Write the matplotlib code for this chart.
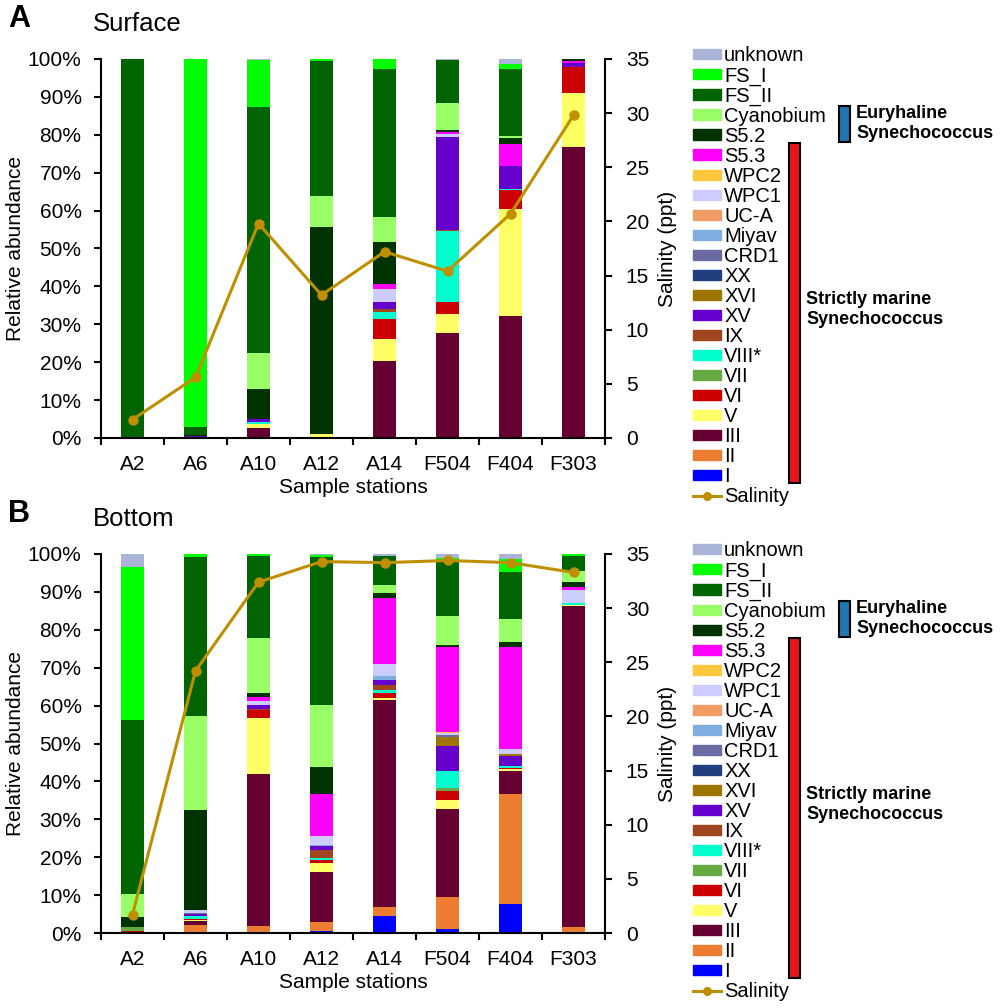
import matplotlib
matplotlib.use("Agg")
import matplotlib.pyplot as plt
import numpy as np
from matplotlib.patches import Patch, Rectangle
from matplotlib.lines import Line2D

plt.rcParams['font.family'] = ['Liberation Sans', 'DejaVu Sans']

# stations and clades (bottom of stack first)
stations = ['A2', 'A6', 'A10', 'A12', 'A14', 'F504', 'F404', 'F303']
clades = ['I', 'II', 'III', 'V', 'VI', 'VII', 'VIII*', 'IX', 'XV', 'XVI', 'XX',
          'CRD1', 'Miyav', 'UC-A', 'WPC1', 'WPC2', 'S5.3', 'S5.2', 'Cyanobium',
          'FS_II', 'FS_I', 'unknown']
colors = ['#0000FF', '#ED7D31', '#660033', '#FFFF66', '#CC0000', '#66AA44',
          '#00FFCC', '#A0461E', '#6600CC', '#9C7600', '#1F3F7F', '#6B6BA3',
          '#7FAEE0', '#F19C64', '#CCCCFF', '#FFC83C', '#FF00FF', '#003300',
          '#99FF66', '#006400', '#00FF00', '#A9B4D8']

# relative abundance (%), only clades that show up; others are zero
surface = {
    'II':        [0, 0, 0, 0, 0, 0, 0.3, 0.3],
    'III':       [0, 0, 2.7, 0, 20.3, 27.6, 31.8, 76.4],
    'V':         [0, 0, 1.1, 1.0, 5.8, 5.1, 28.2, 14.2],
    'VI':        [0, 0, 0, 0, 5.3, 3.1, 5.1, 7.1],
    'VIII*':     [0, 0, 0.3, 0, 1.9, 18.9, 0.3, 0],
    'IX':        [0, 0, 0, 0, 0.6, 0.3, 0, 0],
    'XV':        [0, 0.5, 0.8, 0, 1.9, 24.5, 6.0, 1.0],
    'WPC1':      [0, 0, 0, 0, 3.6, 0.6, 0, 0],
    'S5.3':      [0, 0, 0, 0, 1.2, 0.5, 5.8, 0.4],
    'S5.2':      [0, 0.3, 8.1, 54.7, 11.2, 0.7, 1.7, 0.6],
    'Cyanobium': [0, 0, 9.4, 8.1, 6.6, 7.0, 0.4, 0],
    'FS_II':     [100, 2.2, 65.0, 35.7, 39.0, 11.4, 17.7, 0],
    'FS_I':      [0, 97.0, 12.3, 0.5, 2.6, 0, 1.4, 0],
    'unknown':   [0, 0, 0.3, 0, 0, 0.3, 1.3, 0],
}
bottom = {
    'I':         [0, 0, 0, 0.4, 4.6, 1.1, 7.7, 0],
    'II':        [0, 2.2, 1.9, 2.4, 2.2, 8.4, 29.1, 1.6],
    'III':       [0, 0.9, 40.0, 13.4, 54.6, 23.2, 5.9, 84.6],
    'V':         [0, 0.4, 14.7, 2.3, 0.6, 2.5, 0.6, 0.4],
    'VI':        [0.4, 0.3, 2.2, 0.7, 1.3, 2.2, 0.2, 0],
    'VII':       [1.2, 0, 0, 0, 0, 0.9, 0, 0],
    'VIII*':     [0, 0.6, 0, 0.6, 0.9, 4.4, 0.5, 0.6],
    'IX':        [0, 0, 0.3, 2.0, 1.3, 0, 0, 0],
    'XV':        [0, 0.5, 1.0, 1.1, 1.3, 6.7, 2.6, 0],
    'XVI':       [0, 0, 0, 0, 0, 2.3, 0.6, 0],
    'CRD1':      [0, 0.4, 0, 0, 0, 0.6, 0, 0],
    'Miyav':     [0, 0, 0, 0.2, 1.1, 0, 0, 0],
    'WPC1':      [0, 0.7, 1.0, 2.6, 3.1, 0.5, 1.3, 3.2],
    'WPC2':      [0, 0, 0, 0, 0, 0.3, 0, 0],
    'S5.3':      [0, 0, 1.2, 11.1, 17.4, 22.4, 27.0, 0.8],
    'S5.2':      [2.6, 26.4, 0.9, 7.0, 1.3, 0.6, 1.2, 1.3],
    'Cyanobium': [6.1, 24.9, 14.6, 16.3, 2.0, 7.5, 6.2, 2.9],
    'FS_II':     [45.8, 41.9, 21.8, 39.1, 7.7, 14.9, 12.4, 4.2],
    'FS_I':      [40.6, 0.8, 0.4, 0.5, 0, 0.4, 3.4, 0.4],
    'unknown':   [3.3, 0, 0, 0.3, 0.6, 1.1, 1.3, 0],
}
salinity_surface = [1.7, 5.6, 19.8, 13.2, 17.2, 15.4, 20.7, 29.8]
salinity_bottom = [1.7, 24.2, 32.4, 34.3, 34.2, 34.4, 34.2, 33.3]

sal_color = '#BF8F00'
fs = 15

fig = plt.figure(figsize=(10, 10.08), dpi=100)


def panel(rect, data, sal, letter, title, dy):
    ax = fig.add_axes(rect)
    x = np.arange(len(stations))
    base = np.zeros(len(stations))
    for name, col in zip(clades, colors):
        vals = np.array(data.get(name, [0] * len(stations)), dtype=float)
        ax.bar(x, vals / 100, 0.38, bottom=base, color=col, linewidth=0)
        base += vals / 100
    ax.set_xlim(-0.5, len(stations) - 0.5)
    ax.set_ylim(0, 1)
    ax.set_yticks(np.arange(0, 1.01, 0.1))
    ax.set_yticklabels(['%d%%' % v for v in range(0, 101, 10)], fontsize=fs)
    ax.set_xticks(x)
    ax.set_xticklabels(stations, fontsize=fs)
    ax.set_xticks(np.arange(-0.5, len(stations)), minor=True)
    ax.tick_params(axis='x', which='major', length=0, pad=12)
    ax.tick_params(axis='x', which='minor', length=5, width=1.5, direction='out')
    ax.tick_params(axis='y', length=5, width=1.5, direction='out', pad=9)
    for s in ['top', 'right']:
        ax.spines[s].set_visible(False)
    for s in ['left', 'bottom']:
        ax.spines[s].set_linewidth(1.5)
    ax.set_ylabel('Relative abundance', fontsize=fs, labelpad=2)
    ax.set_xlabel('Sample stations', fontsize=fs, labelpad=3)

    ax2 = ax.twinx()
    ax2.plot(x, sal, color=sal_color, lw=2.2, marker='o', ms=6.5)
    ax2.set_ylim(0, 35)
    ax2.set_yticks(np.arange(0, 36, 5))
    ax2.tick_params(axis='y', length=5, width=1.5, direction='out',
                    labelsize=fs, pad=10)
    for s in ['top', 'left', 'bottom']:
        ax2.spines[s].set_visible(False)
    ax2.spines['right'].set_linewidth(1.5)
    ax2.set_ylabel('Salinity (ppt)', fontsize=fs, labelpad=6)

    fig.text(0.008, 0.981 - dy, letter, fontsize=22, fontweight='bold', va='center')
    fig.text(0.093, 0.976 - dy, title, fontsize=18.5, va='center')

    handles = [Patch(color=c) for c in colors[::-1]]
    handles.append(Line2D([], [], color=sal_color, lw=2.2, marker='o', ms=5.5))
    labels = clades[::-1] + ['Salinity']
    fig.legend(handles, labels, loc='upper left',
               bbox_to_anchor=(0.693, 0.954 - dy), frameon=False, fontsize=14.5,
               handlelength=1.4, handleheight=0.42, handletextpad=0.15,
               labelspacing=0.05, borderaxespad=0, borderpad=0)

    fig.add_artist(Rectangle((0.839, 0.8591 - dy), 0.011, 0.0357,
                             transform=fig.transFigure, facecolor='#1F77B4',
                             edgecolor='black', lw=1.5))
    fig.add_artist(Rectangle((0.789, 0.5208 - dy), 0.011, 0.3373,
                             transform=fig.transFigure, facecolor='#E8161A',
                             edgecolor='black', lw=1.5))
    fig.text(0.856, 0.8775 - dy, 'Euryhaline\nSynechococcus', fontsize=13,
             fontweight='bold', va='center', linespacing=1.2)
    fig.text(0.806, 0.693 - dy, 'Strictly marine\nSynechococcus', fontsize=13,
             fontweight='bold', va='center', linespacing=1.2)


panel([0.101, 0.5655, 0.504, 0.376], surface, salinity_surface, 'A', 'Surface', 0)
panel([0.101, 0.0744, 0.504, 0.376], bottom, salinity_bottom, 'B', 'Bottom', 0.4911)

fig.savefig('out.png', dpi=100)
